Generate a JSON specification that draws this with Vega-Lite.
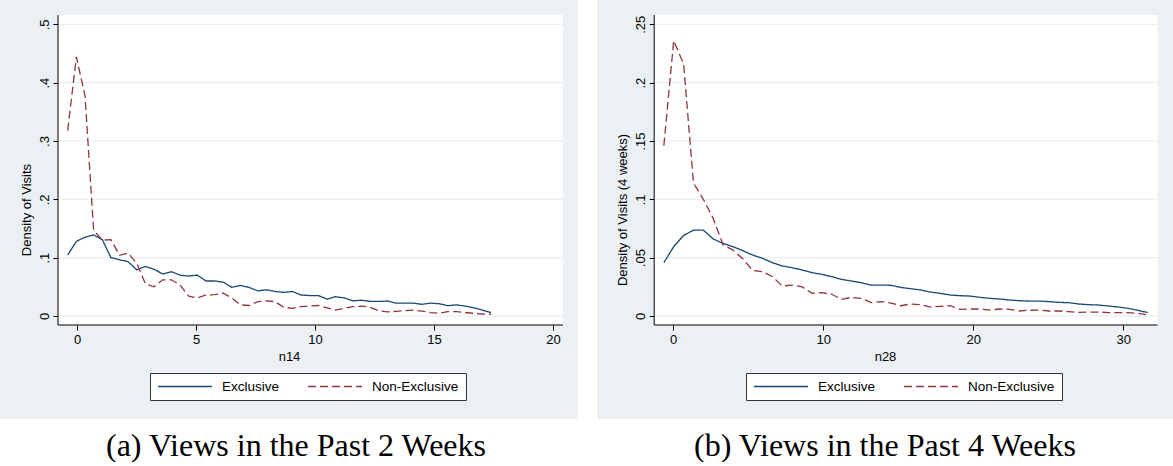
{
  "$schema": "https://vega.github.io/schema/vega-lite/v6.json",
  "background": "white",
  "padding": 0,
  "spacing": 19,
  "config": {
    "view": {"stroke": null},
    "axis": {"labelFont": "Liberation Sans", "titleFont": "Liberation Sans", "labelColor": "black", "titleColor": "black", "tickColor": "black", "tickWidth": 1, "titleFontWeight": "normal", "labelFontSize": 13, "titleFontSize": 13, "grid": false, "domain": false, "tickSize": 5},
    "legend": {"labelFont": "Liberation Sans", "labelFontSize": 13.5, "labelColor": "black"}
  },
  "resolve": {"scale": {"x": "independent", "y": "independent", "color": "independent", "strokeDash": "independent"}, "legend": {"color": "independent", "strokeDash": "independent"}},
  "datasets": {
    "a": [
      {"x":-0.39,"y":0.1045,"s":"Exclusive"},{"x":-0.027,"y":0.128,"s":"Exclusive"},{"x":0.336,"y":0.135,"s":"Exclusive"},{"x":0.699,"y":0.139,"s":"Exclusive"},{"x":1.062,"y":0.131,"s":"Exclusive"},{"x":1.425,"y":0.100,"s":"Exclusive"},{"x":1.788,"y":0.0965,"s":"Exclusive"},{"x":2.151,"y":0.093,"s":"Exclusive"},{"x":2.514,"y":0.079,"s":"Exclusive"},{"x":2.877,"y":0.085,"s":"Exclusive"},
      {"x":3.24,"y":0.080,"s":"Exclusive"},{"x":3.603,"y":0.072,"s":"Exclusive"},{"x":3.966,"y":0.076,"s":"Exclusive"},{"x":4.329,"y":0.070,"s":"Exclusive"},{"x":4.692,"y":0.0685,"s":"Exclusive"},{"x":5.055,"y":0.070,"s":"Exclusive"},{"x":5.418,"y":0.060,"s":"Exclusive"},{"x":5.781,"y":0.060,"s":"Exclusive"},{"x":6.144,"y":0.058,"s":"Exclusive"},{"x":6.507,"y":0.049,"s":"Exclusive"},
      {"x":6.87,"y":0.0525,"s":"Exclusive"},{"x":7.233,"y":0.049,"s":"Exclusive"},{"x":7.596,"y":0.043,"s":"Exclusive"},{"x":7.959,"y":0.045,"s":"Exclusive"},{"x":8.322,"y":0.042,"s":"Exclusive"},{"x":8.685,"y":0.0405,"s":"Exclusive"},{"x":9.048,"y":0.042,"s":"Exclusive"},{"x":9.411,"y":0.036,"s":"Exclusive"},{"x":9.774,"y":0.035,"s":"Exclusive"},{"x":10.137,"y":0.035,"s":"Exclusive"},
      {"x":10.5,"y":0.029,"s":"Exclusive"},{"x":10.863,"y":0.033,"s":"Exclusive"},{"x":11.226,"y":0.031,"s":"Exclusive"},{"x":11.589,"y":0.026,"s":"Exclusive"},{"x":11.952,"y":0.027,"s":"Exclusive"},{"x":12.315,"y":0.025,"s":"Exclusive"},{"x":12.678,"y":0.025,"s":"Exclusive"},{"x":13.041,"y":0.0257,"s":"Exclusive"},{"x":13.404,"y":0.022,"s":"Exclusive"},{"x":13.767,"y":0.022,"s":"Exclusive"},
      {"x":14.13,"y":0.022,"s":"Exclusive"},{"x":14.493,"y":0.020,"s":"Exclusive"},{"x":14.856,"y":0.022,"s":"Exclusive"},{"x":15.219,"y":0.021,"s":"Exclusive"},{"x":15.582,"y":0.0177,"s":"Exclusive"},{"x":15.945,"y":0.019,"s":"Exclusive"},{"x":16.308,"y":0.017,"s":"Exclusive"},{"x":16.671,"y":0.014,"s":"Exclusive"},{"x":17.034,"y":0.010,"s":"Exclusive"},{"x":17.397,"y":0.006,"s":"Exclusive"},
      {"x":-0.39,"y":0.318,"s":"Non-Exclusive"},{"x":-0.027,"y":0.444,"s":"Non-Exclusive"},{"x":0.336,"y":0.378,"s":"Non-Exclusive"},{"x":0.699,"y":0.147,"s":"Non-Exclusive"},{"x":1.062,"y":0.130,"s":"Non-Exclusive"},{"x":1.425,"y":0.131,"s":"Non-Exclusive"},{"x":1.788,"y":0.104,"s":"Non-Exclusive"},{"x":2.151,"y":0.108,"s":"Non-Exclusive"},{"x":2.514,"y":0.090,"s":"Non-Exclusive"},{"x":2.877,"y":0.055,"s":"Non-Exclusive"},
      {"x":3.24,"y":0.050,"s":"Non-Exclusive"},{"x":3.603,"y":0.062,"s":"Non-Exclusive"},{"x":3.966,"y":0.062,"s":"Non-Exclusive"},{"x":4.329,"y":0.053,"s":"Non-Exclusive"},{"x":4.692,"y":0.034,"s":"Non-Exclusive"},{"x":5.055,"y":0.031,"s":"Non-Exclusive"},{"x":5.418,"y":0.036,"s":"Non-Exclusive"},{"x":5.781,"y":0.0365,"s":"Non-Exclusive"},{"x":6.144,"y":0.039,"s":"Non-Exclusive"},{"x":6.507,"y":0.031,"s":"Non-Exclusive"},
      {"x":6.87,"y":0.019,"s":"Non-Exclusive"},{"x":7.233,"y":0.018,"s":"Non-Exclusive"},{"x":7.596,"y":0.0245,"s":"Non-Exclusive"},{"x":7.959,"y":0.026,"s":"Non-Exclusive"},{"x":8.322,"y":0.0245,"s":"Non-Exclusive"},{"x":8.685,"y":0.015,"s":"Non-Exclusive"},{"x":9.048,"y":0.013,"s":"Non-Exclusive"},{"x":9.411,"y":0.016,"s":"Non-Exclusive"},{"x":9.774,"y":0.017,"s":"Non-Exclusive"},{"x":10.137,"y":0.018,"s":"Non-Exclusive"},
      {"x":10.5,"y":0.014,"s":"Non-Exclusive"},{"x":10.863,"y":0.010,"s":"Non-Exclusive"},{"x":11.226,"y":0.013,"s":"Non-Exclusive"},{"x":11.589,"y":0.016,"s":"Non-Exclusive"},{"x":11.952,"y":0.017,"s":"Non-Exclusive"},{"x":12.315,"y":0.015,"s":"Non-Exclusive"},{"x":12.678,"y":0.009,"s":"Non-Exclusive"},{"x":13.041,"y":0.007,"s":"Non-Exclusive"},{"x":13.404,"y":0.008,"s":"Non-Exclusive"},{"x":13.767,"y":0.009,"s":"Non-Exclusive"},
      {"x":14.13,"y":0.010,"s":"Non-Exclusive"},{"x":14.493,"y":0.0085,"s":"Non-Exclusive"},{"x":14.856,"y":0.0057,"s":"Non-Exclusive"},{"x":15.219,"y":0.0046,"s":"Non-Exclusive"},{"x":15.582,"y":0.0074,"s":"Non-Exclusive"},{"x":15.945,"y":0.0074,"s":"Non-Exclusive"},{"x":16.308,"y":0.006,"s":"Non-Exclusive"},{"x":16.671,"y":0.0046,"s":"Non-Exclusive"},{"x":17.034,"y":0.0034,"s":"Non-Exclusive"},{"x":17.397,"y":0.003,"s":"Non-Exclusive"}
    ],
    "b": [
      {"x":-0.62,"y":0.0457,"s":"Exclusive"},{"x":0.038,"y":0.0594,"s":"Exclusive"},{"x":0.696,"y":0.069,"s":"Exclusive"},{"x":1.354,"y":0.0736,"s":"Exclusive"},{"x":2.012,"y":0.0736,"s":"Exclusive"},{"x":2.67,"y":0.066,"s":"Exclusive"},{"x":3.328,"y":0.0622,"s":"Exclusive"},{"x":3.986,"y":0.0594,"s":"Exclusive"},{"x":4.644,"y":0.056,"s":"Exclusive"},{"x":5.302,"y":0.0522,"s":"Exclusive"},
      {"x":5.96,"y":0.0494,"s":"Exclusive"},{"x":6.618,"y":0.0457,"s":"Exclusive"},{"x":7.276,"y":0.0428,"s":"Exclusive"},{"x":7.934,"y":0.0414,"s":"Exclusive"},{"x":8.592,"y":0.0394,"s":"Exclusive"},{"x":9.25,"y":0.0371,"s":"Exclusive"},{"x":9.908,"y":0.0357,"s":"Exclusive"},{"x":10.566,"y":0.0337,"s":"Exclusive"},{"x":11.224,"y":0.0314,"s":"Exclusive"},{"x":11.882,"y":0.030,"s":"Exclusive"},
      {"x":12.54,"y":0.0285,"s":"Exclusive"},{"x":13.198,"y":0.0265,"s":"Exclusive"},{"x":13.856,"y":0.0265,"s":"Exclusive"},{"x":14.514,"y":0.0263,"s":"Exclusive"},{"x":15.172,"y":0.0245,"s":"Exclusive"},{"x":15.83,"y":0.0234,"s":"Exclusive"},{"x":16.488,"y":0.0223,"s":"Exclusive"},{"x":17.146,"y":0.0205,"s":"Exclusive"},{"x":17.804,"y":0.0194,"s":"Exclusive"},{"x":18.462,"y":0.018,"s":"Exclusive"},
      {"x":19.12,"y":0.0174,"s":"Exclusive"},{"x":19.778,"y":0.0171,"s":"Exclusive"},{"x":20.436,"y":0.016,"s":"Exclusive"},{"x":21.094,"y":0.0151,"s":"Exclusive"},{"x":21.752,"y":0.0146,"s":"Exclusive"},{"x":22.41,"y":0.0137,"s":"Exclusive"},{"x":23.068,"y":0.0131,"s":"Exclusive"},{"x":23.726,"y":0.0128,"s":"Exclusive"},{"x":24.384,"y":0.0128,"s":"Exclusive"},{"x":25.042,"y":0.0123,"s":"Exclusive"},
      {"x":25.7,"y":0.0117,"s":"Exclusive"},{"x":26.358,"y":0.0114,"s":"Exclusive"},{"x":27.016,"y":0.0103,"s":"Exclusive"},{"x":27.674,"y":0.0097,"s":"Exclusive"},{"x":28.332,"y":0.0094,"s":"Exclusive"},{"x":28.99,"y":0.0086,"s":"Exclusive"},{"x":29.648,"y":0.0077,"s":"Exclusive"},{"x":30.306,"y":0.0066,"s":"Exclusive"},{"x":30.964,"y":0.0049,"s":"Exclusive"},{"x":31.622,"y":0.0029,"s":"Exclusive"},
      {"x":-0.62,"y":0.146,"s":"Non-Exclusive"},{"x":0.038,"y":0.236,"s":"Non-Exclusive"},{"x":0.696,"y":0.216,"s":"Non-Exclusive"},{"x":1.354,"y":0.114,"s":"Non-Exclusive"},{"x":2.012,"y":0.100,"s":"Non-Exclusive"},{"x":2.67,"y":0.0836,"s":"Non-Exclusive"},{"x":3.328,"y":0.061,"s":"Non-Exclusive"},{"x":3.986,"y":0.0565,"s":"Non-Exclusive"},{"x":4.644,"y":0.049,"s":"Non-Exclusive"},{"x":5.302,"y":0.039,"s":"Non-Exclusive"},
      {"x":5.96,"y":0.038,"s":"Non-Exclusive"},{"x":6.618,"y":0.0337,"s":"Non-Exclusive"},{"x":7.276,"y":0.0257,"s":"Non-Exclusive"},{"x":7.934,"y":0.0265,"s":"Non-Exclusive"},{"x":8.592,"y":0.025,"s":"Non-Exclusive"},{"x":9.25,"y":0.0194,"s":"Non-Exclusive"},{"x":9.908,"y":0.020,"s":"Non-Exclusive"},{"x":10.566,"y":0.0186,"s":"Non-Exclusive"},{"x":11.224,"y":0.0143,"s":"Non-Exclusive"},{"x":11.882,"y":0.016,"s":"Non-Exclusive"},
      {"x":12.54,"y":0.0151,"s":"Non-Exclusive"},{"x":13.198,"y":0.0114,"s":"Non-Exclusive"},{"x":13.856,"y":0.0123,"s":"Non-Exclusive"},{"x":14.514,"y":0.0111,"s":"Non-Exclusive"},{"x":15.172,"y":0.0088,"s":"Non-Exclusive"},{"x":15.83,"y":0.0103,"s":"Non-Exclusive"},{"x":16.488,"y":0.0097,"s":"Non-Exclusive"},{"x":17.146,"y":0.0077,"s":"Non-Exclusive"},{"x":17.804,"y":0.0083,"s":"Non-Exclusive"},{"x":18.462,"y":0.0088,"s":"Non-Exclusive"},
      {"x":19.12,"y":0.0057,"s":"Non-Exclusive"},{"x":19.778,"y":0.006,"s":"Non-Exclusive"},{"x":20.436,"y":0.006,"s":"Non-Exclusive"},{"x":21.094,"y":0.0051,"s":"Non-Exclusive"},{"x":21.752,"y":0.006,"s":"Non-Exclusive"},{"x":22.41,"y":0.0057,"s":"Non-Exclusive"},{"x":23.068,"y":0.0043,"s":"Non-Exclusive"},{"x":23.726,"y":0.0049,"s":"Non-Exclusive"},{"x":24.384,"y":0.0051,"s":"Non-Exclusive"},{"x":25.042,"y":0.0043,"s":"Non-Exclusive"},
      {"x":25.7,"y":0.0043,"s":"Non-Exclusive"},{"x":26.358,"y":0.0037,"s":"Non-Exclusive"},{"x":27.016,"y":0.0031,"s":"Non-Exclusive"},{"x":27.674,"y":0.0034,"s":"Non-Exclusive"},{"x":28.332,"y":0.0034,"s":"Non-Exclusive"},{"x":28.99,"y":0.0029,"s":"Non-Exclusive"},{"x":29.648,"y":0.0029,"s":"Non-Exclusive"},{"x":30.306,"y":0.0029,"s":"Non-Exclusive"},{"x":30.964,"y":0.0023,"s":"Non-Exclusive"},{"x":31.622,"y":0.0009,"s":"Non-Exclusive"}
    ],
    "gridA": [{"g":0},{"g":0.1},{"g":0.2},{"g":0.3},{"g":0.4},{"g":0.5}],
    "gridB": [{"g":0},{"g":0.05},{"g":0.1},{"g":0.15},{"g":0.2},{"g":0.25}],
    "one": [{"k":1}]
  },
  "hconcat": [
    {
      "width": 578,
      "height": 419,
      "view": {"fill": "#eaf0f3", "stroke": null},
      "title": {"text": "(a) Views in the Past 2 Weeks", "orient": "bottom", "anchor": "middle", "font": "Liberation Serif", "fontSize": 32, "fontWeight": "normal", "color": "black", "baseline": "top", "offset": 12, "dx": 7},
      "layer": [
        {
          "data": {"name": "a"},
          "mark": {"type": "line", "strokeWidth": 1.3, "opacity": 0},
          "encoding": {
            "x": {"field": "x", "type": "quantitative", "scale": {"domain": [-3.235, 21.05], "nice": false, "zero": false},
                  "axis": {"orient": "bottom", "offset": -94, "values": [0, 5, 10, 15, 20], "labelPadding": 3, "title": "n14", "titlePadding": 4}},
            "y": {"field": "y", "type": "quantitative", "scale": {"domain": [-0.1766, 0.5417], "nice": false, "zero": false},
                  "axis": {"orient": "left", "offset": -58, "values": [0, 0.1, 0.2, 0.3, 0.4, 0.5], "labelExpr": "replace(format(datum.value, '~g'), '0.', '.')", "labelAngle": 270, "labelAlign": "center", "labelBaseline": "bottom", "labelPadding": 2, "title": "Density of Visits", "titlePadding": 5}}
          }
        },
        {
          "data": {"name": "one"},
          "mark": {"type": "rect", "fill": "white"},
          "encoding": {
            "x": {"datum": -0.798, "type": "quantitative"},
            "x2": {"datum": 20.42},
            "y": {"datum": -0.01543, "type": "quantitative"},
            "y2": {"datum": 0.5159}
          }
        },
        {
          "data": {"name": "gridA"},
          "mark": {"type": "rule", "color": "#e4ebef", "strokeWidth": 1},
          "encoding": {
            "y": {"field": "g", "type": "quantitative"},
            "x": {"datum": -0.798, "type": "quantitative"},
            "x2": {"datum": 20.42}
          }
        },
        {
          "data": {"name": "one"},
          "mark": {"type": "rule", "color": "black", "strokeWidth": 1},
          "encoding": {
            "x": {"datum": -0.798, "type": "quantitative"},
            "y": {"datum": -0.01543, "type": "quantitative"},
            "y2": {"datum": 0.5159}
          }
        },
        {
          "data": {"name": "one"},
          "mark": {"type": "rule", "color": "black", "strokeWidth": 1},
          "encoding": {
            "y": {"datum": -0.01543, "type": "quantitative"},
            "x": {"datum": -0.798, "type": "quantitative"},
            "x2": {"datum": 20.42}
          }
        },
        {
          "data": {"name": "a"},
          "mark": {"type": "line", "strokeWidth": 1.3},
          "encoding": {
            "x": {"field": "x", "type": "quantitative"},
            "y": {"field": "y", "type": "quantitative"},
            "color": {"field": "s", "type": "nominal", "scale": {"domain": ["Exclusive", "Non-Exclusive"], "range": ["#1a476f", "#90353b"]},
                      "legend": {"orient": "none", "legendX": 150, "legendY": 373, "direction": "horizontal", "title": null, "symbolType": "stroke", "symbolSize": 2916, "symbolStrokeWidth": 1.3, "clipHeight": 13, "labelOffset": 9, "columnPadding": 27, "padding": 7, "fillColor": "white", "strokeColor": "#333333", "cornerRadius": 0, "labelLimit": 300}},
            "strokeDash": {"field": "s", "type": "nominal", "scale": {"domain": ["Exclusive", "Non-Exclusive"], "range": [[1, 0], [8, 4]]},
                      "legend": {"orient": "none", "legendX": 150, "legendY": 373, "direction": "horizontal", "title": null, "symbolType": "stroke", "symbolSize": 2916, "symbolStrokeWidth": 1.3, "clipHeight": 13, "labelOffset": 9, "columnPadding": 27, "padding": 7, "fillColor": "white", "strokeColor": "#333333", "cornerRadius": 0, "labelLimit": 300}}
          }
        }
      ]
    },
    {
      "width": 576,
      "height": 419,
      "view": {"fill": "#eaf0f3", "stroke": null},
      "title": {"text": "(b) Views in the Past 4 Weeks", "orient": "bottom", "anchor": "middle", "font": "Liberation Serif", "fontSize": 32, "fontWeight": "normal", "color": "black", "baseline": "top", "offset": 12, "dx": 0},
      "layer": [
        {
          "data": {"name": "b"},
          "mark": {"type": "line", "strokeWidth": 1.3, "opacity": 0},
          "encoding": {
            "x": {"field": "x", "type": "quantitative", "scale": {"domain": [-5.075, 33.31], "nice": false, "zero": false},
                  "axis": {"orient": "bottom", "offset": -94, "values": [0, 10, 20, 30], "labelPadding": 3, "title": "n28", "titlePadding": 4}},
            "y": {"field": "y", "type": "quantitative", "scale": {"domain": [-0.08828, 0.27083], "nice": false, "zero": false},
                  "axis": {"orient": "left", "offset": -57.3, "values": [0, 0.05, 0.1, 0.15, 0.2, 0.25], "labelExpr": "replace(format(datum.value, '~g'), '0.', '.')", "labelAngle": 270, "labelAlign": "center", "labelBaseline": "bottom", "labelPadding": 2, "title": "Density of Visits (4 weeks)", "titlePadding": 5}}
          }
        },
        {
          "data": {"name": "one"},
          "mark": {"type": "rect", "fill": "white"},
          "encoding": {
            "x": {"datum": -1.264, "type": "quantitative"},
            "x2": {"datum": 32.29},
            "y": {"datum": -0.007713, "type": "quantitative"},
            "y2": {"datum": 0.25797}
          }
        },
        {
          "data": {"name": "gridB"},
          "mark": {"type": "rule", "color": "#e4ebef", "strokeWidth": 1},
          "encoding": {
            "y": {"field": "g", "type": "quantitative"},
            "x": {"datum": -1.264, "type": "quantitative"},
            "x2": {"datum": 32.29}
          }
        },
        {
          "data": {"name": "one"},
          "mark": {"type": "rule", "color": "black", "strokeWidth": 1},
          "encoding": {
            "x": {"datum": -1.264, "type": "quantitative"},
            "y": {"datum": -0.007713, "type": "quantitative"},
            "y2": {"datum": 0.25797}
          }
        },
        {
          "data": {"name": "one"},
          "mark": {"type": "rule", "color": "black", "strokeWidth": 1},
          "encoding": {
            "y": {"datum": -0.007713, "type": "quantitative"},
            "x": {"datum": -1.264, "type": "quantitative"},
            "x2": {"datum": 32.29}
          }
        },
        {
          "data": {"name": "b"},
          "mark": {"type": "line", "strokeWidth": 1.3},
          "encoding": {
            "x": {"field": "x", "type": "quantitative"},
            "y": {"field": "y", "type": "quantitative"},
            "color": {"field": "s", "type": "nominal", "scale": {"domain": ["Exclusive", "Non-Exclusive"], "range": ["#1a476f", "#90353b"]},
                      "legend": {"orient": "none", "legendX": 149, "legendY": 373, "direction": "horizontal", "title": null, "symbolType": "stroke", "symbolSize": 2916, "symbolStrokeWidth": 1.3, "clipHeight": 13, "labelOffset": 9, "columnPadding": 27, "padding": 7, "fillColor": "white", "strokeColor": "#333333", "cornerRadius": 0, "labelLimit": 300}},
            "strokeDash": {"field": "s", "type": "nominal", "scale": {"domain": ["Exclusive", "Non-Exclusive"], "range": [[1, 0], [8, 4]]},
                      "legend": {"orient": "none", "legendX": 149, "legendY": 373, "direction": "horizontal", "title": null, "symbolType": "stroke", "symbolSize": 2916, "symbolStrokeWidth": 1.3, "clipHeight": 13, "labelOffset": 9, "columnPadding": 27, "padding": 7, "fillColor": "white", "strokeColor": "#333333", "cornerRadius": 0, "labelLimit": 300}}
          }
        }
      ]
    }
  ]
}
